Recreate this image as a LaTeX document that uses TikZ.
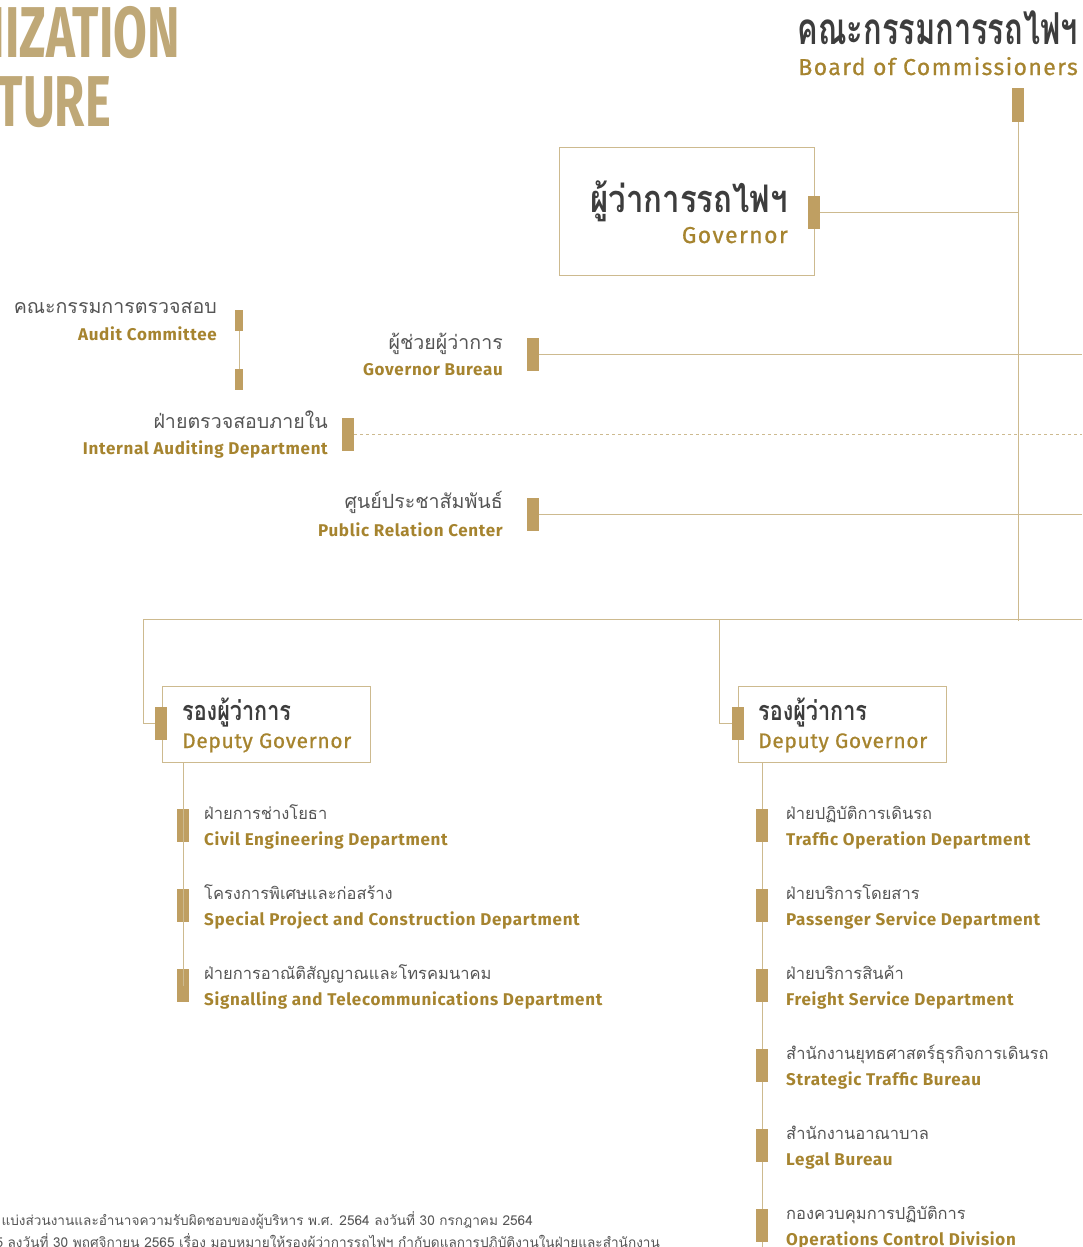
\documentclass[tikz,border=0pt]{standalone}
\usepackage{fontspec}
\setmainfont{Fira Sans}
\newfontfamily\thai[Script=Thai]{Loma}
\definecolor{goldtxt}{HTML}{A6842F}
\definecolor{barc}{HTML}{BF9F62}
\definecolor{linec}{HTML}{CDBA8F}
\definecolor{titlec}{HTML}{BFA877}
\definecolor{darkc}{HTML}{3D3D3D}
\definecolor{grayc}{HTML}{555555}
\tikzset{
  bar/.style={fill=barc, draw=none, minimum width=12pt, minimum height=33pt, inner sep=0pt},
  sbar/.style={fill=barc, draw=none, minimum width=8pt, minimum height=21pt, inner sep=0pt},
  conn/.style={draw=linec, line width=0.9pt},
  boxst/.style={draw=linec, line width=1pt, inner sep=0pt},
  thbig/.style={font=\thai\bfseries\fontsize{44}{48}\selectfont, text=darkc, inner sep=0pt, xscale=0.7},
  thmid/.style={font=\thai\bfseries\fontsize{38}{42}\selectfont, text=darkc, inner sep=0pt, xscale=0.82},
  thdep/.style={font=\thai\bfseries\fontsize{27}{30}\selectfont, text=darkc, inner sep=0pt, xscale=0.8},
  thlab/.style={font=\thai\fontsize{19.6}{22}\selectfont, text=grayc, inner sep=0pt},
  thsub/.style={font=\thai\fontsize{16.5}{19}\selectfont, text=grayc, inner sep=0pt},
  enbig/.style={font=\fontsize{23}{26}\selectfont\addfontfeatures{LetterSpace=6,FakeBold=0.7}, text=goldtxt, inner sep=0pt},
  endep/.style={font=\fontsize{21}{24}\selectfont\addfontfeatures{LetterSpace=3,FakeBold=0.7}, text=goldtxt, inner sep=0pt},
  enlab/.style={font=\bfseries\fontsize{17}{20}\selectfont\addfontfeatures{LetterSpace=4}, text=goldtxt, inner sep=0pt},
  title/.style={font=\bfseries\fontsize{72}{80}\selectfont, text=titlec, inner sep=0pt, xscale=0.68},
  foot/.style={font=\thai\fontsize{13.6}{15}\selectfont, text=grayc, inner sep=0pt},
}
\begin{document}
\begin{tikzpicture}[x=1pt,y=-1pt]
\useasboundingbox (0,0) rectangle (1082,1247);
\clip (0,0) rectangle (1082,1247);
\coordinate (edge) at (1082,0);

% title
\node[title, anchor=base east] (t1) at (180,58) {ORGANIZATION};
\node[title, anchor=base east] (t2) at (111,126) {STRUCTURE};

% board
\node[thbig, anchor=base east] (boardTh) at (1078,45) {คณะกรรมการรถไฟฯ};
\node[enbig, anchor=base east] (boardEn) at (1078,75) {Board of Commissioners};
\node[bar, minimum height=34pt] (bBoard) at (1018,105) {};
\coordinate (vEnd) at (1018,621);
\draw[conn] (bBoard.south) -- (vEnd);

% governor
\node[boxst, minimum width=255pt, minimum height=128pt] (govBox) at (686.5,211) {};
\node[thmid, anchor=base east] (govTh) at (788,212) {ผู้ว่าการรถไฟฯ};
\node[enbig, anchor=base east] (govEn) at (788,243) {Governor};
\node[bar] (bGov) at (814,212.5) {};
\draw[conn] (bGov.east) -- (bGov.east -| bBoard);

% audit committee
\node[thlab, anchor=base east] (acTh) at (217,313) {คณะกรรมการตรวจสอบ};
\node[enlab, anchor=base east] (acEn) at (217,340) {Audit Committee};
\node[sbar] (bAC1) at (239,320.5) {};
\node[sbar] (bAC2) at (239,379.5) {};
\draw[conn] (bAC1.south) -- (bAC2.north);

% governor bureau
\node[thlab, anchor=base east] (gbTh) at (503,349) {ผู้ช่วยผู้ว่าการ};
\node[enlab, anchor=base east] (gbEn) at (503,375) {Governor Bureau};
\node[bar] (bGB) at (532.5,354.5) {};
\draw[conn] (bGB.east) -- (bGB.east -| edge);

% internal auditing
\node[thlab, anchor=base east] (iaTh) at (328,428) {ฝ่ายตรวจสอบภายใน};
\node[enlab, anchor=base east] (iaEn) at (328,454) {Internal Auditing Department};
\node[bar] (bIA) at (348,434.5) {};
\draw[conn, dash pattern=on 3pt off 3pt] (bIA.east) -- (bIA.east -| edge);

% public relation
\node[thlab, anchor=base east] (prTh) at (503,508) {ศูนย์ประชาสัมพันธ์};
\node[enlab, anchor=base east] (prEn) at (503,536) {Public Relation Center};
\node[bar] (bPR) at (532.5,514.5) {};
\draw[conn] (bPR.east) -- (bPR.east -| edge);

% horizontal distribution line
\coordinate (hR) at (1082,619);
\coordinate (hL) at (143,619);
\coordinate (hM) at (719,619);

% deputy governor 1
\node[boxst, minimum width=208pt, minimum height=76pt] (dg1) at (266,724) {};
\node[thdep, anchor=base west] (dg1Th) at (182,720) {รองผู้ว่าการ};
\node[endep, anchor=base west] (dg1En) at (182,748) {Deputy Governor};
\node[bar] (bDG1) at (161,723.5) {};
\draw[conn] (hR) -- (hL) |- (bDG1.west);

% deputy governor 2
\node[boxst, minimum width=208pt, minimum height=76pt] (dg2) at (842,724) {};
\node[thdep, anchor=base west] (dg2Th) at (758,720) {รองผู้ว่าการ};
\node[endep, anchor=base west] (dg2En) at (758,748) {Deputy Governor};
\node[bar] (bDG2) at (738,723.5) {};
\draw[conn] (hM) |- (bDG2.west);

% left departments
\node[bar] (bL1) at (183,825.5) {};
\node[bar] (bL2) at (183,905.5) {};
\node[bar] (bL3) at (183,985.5) {};
\draw[conn] (bL1 |- dg1.south) -- (bL3.center);
\node[thsub, anchor=base west] (l1Th) at (204,819) {ฝ่ายการช่างโยธา};
\node[enlab, anchor=base west] (l1En) at (204,845) {Civil Engineering Department};
\node[thsub, anchor=base west] (l2Th) at (204,899) {โครงการพิเศษและก่อสร้าง};
\node[enlab, anchor=base west] (l2En) at (204,925) {Special Project and Construction Department};
\node[thsub, anchor=base west] (l3Th) at (204,979) {ฝ่ายการอาณัติสัญญาณและโทรคมนาคม};
\node[enlab, anchor=base west] (l3En) at (204,1005) {Signalling and Telecommunications Department};

% right departments
\coordinate (rBottom) at (762,1247);
\draw[conn] (rBottom |- dg2.south) -- (rBottom);
\node[bar] (bR1) at (762,825.5) {};
\node[bar] (bR2) at (762,905.5) {};
\node[bar] (bR3) at (762,985.5) {};
\node[bar] (bR4) at (762,1065.5) {};
\node[bar] (bR5) at (762,1145.5) {};
\node[bar] (bR6) at (762,1225.5) {};
\node[thsub, anchor=base west] (r1Th) at (786,819) {ฝ่ายปฏิบัติการเดินรถ};
\node[enlab, anchor=base west] (r1En) at (786,845) {Traffic Operation Department};
\node[thsub, anchor=base west] (r2Th) at (786,899) {ฝ่ายบริการโดยสาร};
\node[enlab, anchor=base west] (r2En) at (786,925) {Passenger Service Department};
\node[thsub, anchor=base west] (r3Th) at (786,979) {ฝ่ายบริการสินค้า};
\node[enlab, anchor=base west] (r3En) at (786,1005) {Freight Service Department};
\node[thsub, anchor=base west] (r4Th) at (786,1059) {สำนักงานยุทธศาสตร์ธุรกิจการเดินรถ};
\node[enlab, anchor=base west] (r4En) at (786,1085) {Strategic Traffic Bureau};
\node[thsub, anchor=base west] (r5Th) at (786,1139) {สำนักงานอาณาบาล};
\node[enlab, anchor=base west] (r5En) at (786,1165) {Legal Bureau};
\node[thsub, anchor=base west] (r6Th) at (786,1219) {กองควบคุมการปฏิบัติการ};
\node[enlab, anchor=base west] (r6En) at (786,1245) {Operations Control Division};

% footnote
\node[foot, anchor=base east] (f1) at (533,1225) {แบ่งส่วนงานและอำนาจความรับผิดชอบของผู้บริหาร พ.ศ. 2564 ลงวันที่ 30 กรกฎาคม 2564};
\node[foot, anchor=base east] (f2) at (660,1247) {5 ลงวันที่ 30 พฤศจิกายน 2565 เรื่อง มอบหมายให้รองผู้ว่าการรถไฟฯ กำกับดูแลการปฏิบัติงานในฝ่ายและสำนักงาน};
\end{tikzpicture}
\end{document}
